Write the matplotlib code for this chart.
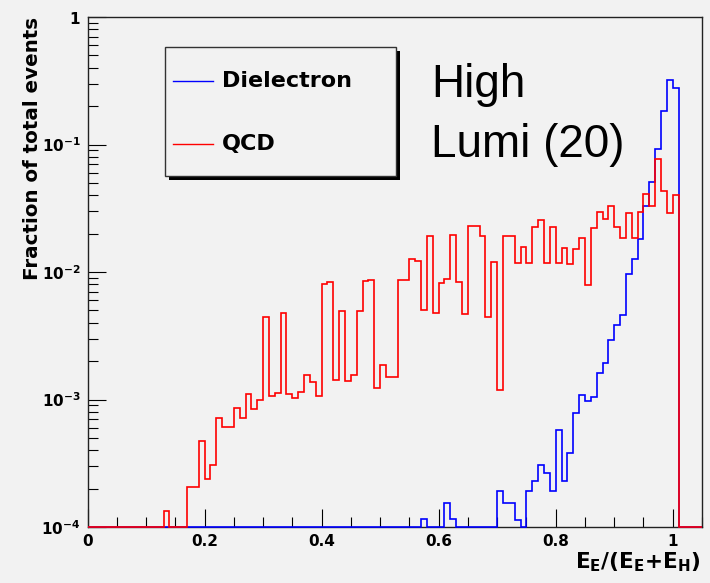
import numpy as np
import matplotlib
matplotlib.use('Agg')
from matplotlib import pyplot as plt
from matplotlib.ticker import MultipleLocator, FixedLocator, LogLocator, NullFormatter
from matplotlib.patches import Rectangle
from matplotlib.lines import Line2D

plt.rcParams['mathtext.fontset'] = 'dejavusans'

# histogram binning: 105 bins of 0.01 from 0 to 1.05
n_bins = 105
bin_width = 0.01

# QCD fractions, bins 13..100 (everything else empty)
qcd_first_bin = 13
qcd_frac = [1.34e-4, 0, 0, 0, 2.07e-4, 2.07e-4, 4.75e-4, 2.39e-4, 3.06e-4, 7.2e-4,
            6.1e-4, 6.1e-4, 8.5e-4, 7.2e-4, 1.1e-3, 8.4e-4, 9.9e-4, 4.4e-3, 1.06e-3, 1.13e-3,
            4.8e-3, 1.1e-3, 1.02e-3, 1.14e-3, 1.57e-3, 1.37e-3, 1.06e-3, 8.05e-3, 8.4e-3, 1.42e-3,
            4.97e-3, 1.39e-3, 1.55e-3, 4.9e-3, 8.55e-3, 8.65e-3, 1.22e-3, 1.85e-3, 1.5e-3, 1.5e-3,
            8.65e-3, 8.65e-3, 1.26e-2, 1.22e-2, 5.0e-3, 1.92e-2, 4.8e-3, 8.15e-3, 8.8e-3, 1.96e-2,
            8.35e-3, 4.7e-3, 2.3e-2, 2.3e-2, 1.92e-2, 4.46e-3, 1.19e-2, 1.19e-3, 1.9e-2, 1.93e-2,
            1.18e-2, 1.56e-2, 1.17e-2, 2.27e-2, 2.56e-2, 1.17e-2, 2.25e-2, 1.17e-2, 1.53e-2, 1.16e-2,
            1.51e-2, 1.86e-2, 7.9e-3, 2.23e-2, 2.97e-2, 2.62e-2, 3.3e-2, 2.25e-2, 1.86e-2, 2.92e-2,
            1.86e-2, 2.97e-2, 4.07e-2, 3.31e-2, 7.7e-2, 4.35e-2, 2.92e-2, 4.02e-2]

# Dielectron fractions, bins 57..100
ee_first_bin = 57
ee_frac = [1.15e-4, 0, 0, 0, 1.55e-4, 1.15e-4, 0, 0, 0, 0,
           0, 0, 0, 1.93e-4, 1.53e-4, 1.53e-4, 1.13e-4, 0, 1.93e-4, 2.31e-4,
           3.06e-4, 2.67e-4, 1.93e-4, 5.77e-4, 2.31e-4, 3.83e-4, 7.8e-4, 1.08e-3, 9.8e-4, 1.04e-3,
           1.62e-3, 1.95e-3, 2.93e-3, 3.84e-3, 4.6e-3, 9.6e-3, 1.27e-2, 1.82e-2, 3.3e-2, 5.1e-2,
           9.3e-2, 0.184, 0.32, 0.276]

x_ticks = [0, 0.2, 0.4, 0.6, 0.8, 1.0]
x_tick_labels = ['0', '0.2', '0.4', '0.6', '0.8', '1']
y_ticks = [1e-4, 1e-3, 1e-2, 1e-1, 1]
y_tick_labels = [r'$\mathbf{10^{-4}}$', r'$\mathbf{10^{-3}}$', r'$\mathbf{10^{-2}}$',
                 r'$\mathbf{10^{-1}}$', r'$\mathbf{1}$']


def full_hist(first, vals):
    h = np.zeros(n_bins)
    h[first:first + len(vals)] = vals
    return h


edges = np.arange(n_bins + 1) * bin_width
ymin = 1e-4
qcd = full_hist(qcd_first_bin, qcd_frac)
ee = full_hist(ee_first_bin, ee_frac)

bg = '#f2f2f2'
W, H = 710, 583
fig = plt.figure(figsize=(7.1, 5.83), dpi=100, facecolor=bg)
ax = fig.add_axes([87.5 / W, 1 - 527 / H, 614.5 / W, 510 / H], facecolor=bg)

# empty bins sit on the bottom of the frame like in ROOT
ax.stairs(np.maximum(ee, ymin), edges, baseline=None, color='#0000ff', lw=1.2, clip_on=False, zorder=3)
ax.stairs(np.maximum(qcd, ymin), edges, baseline=None, color='#ff0000', lw=1.2, clip_on=False, zorder=4)

ax.set_yscale('log')
ax.set_xlim(0, 1.05)
ax.set_ylim(ymin, 1)

ax.xaxis.set_major_locator(FixedLocator(x_ticks))
ax.set_xticklabels(x_tick_labels, fontsize=11, fontweight='bold')
ax.xaxis.set_minor_locator(MultipleLocator(0.05))
ax.yaxis.set_major_locator(FixedLocator(y_ticks))
ax.set_yticklabels(y_tick_labels, fontsize=11)
ax.yaxis.set_minor_locator(LogLocator(base=10, subs=np.arange(2, 10)))
ax.yaxis.set_minor_formatter(NullFormatter())

ax.tick_params(which='both', direction='in', top=False, right=False, color='black', width=0.8)
ax.tick_params(which='major', length=13, pad=5)
ax.tick_params(which='minor', length=7)
for s in ax.spines.values():
    s.set_linewidth(1.0)
    s.set_color('#222222')

fig.text(33 / W, 1 - 17 / H, 'Fraction of total events', rotation=90, ha='center', va='top',
         fontsize=14.3, fontweight='bold')
fig.text(700 / W, 1 - 568 / H, r'$\mathbf{E_{E}/(E_{E}{+}E_{H})}$', ha='right', va='baseline',
         fontsize=15.5)

# legend box with shadow
fig.patches.append(Rectangle((169 / W, 1 - 180 / H), 231 / W, 129 / H, transform=fig.transFigure,
                             facecolor='black', edgecolor='none', zorder=5))
fig.patches.append(Rectangle((165 / W, 1 - 176 / H), 231 / W, 129 / H, transform=fig.transFigure,
                             facecolor=bg, edgecolor='#333333', lw=1.0, zorder=6))
for label, col, yc in [('Dielectron', '#0000ff', 81), ('QCD', '#ff0000', 144)]:
    fig.lines.append(Line2D([173 / W, 213 / W], [1 - yc / H, 1 - yc / H], transform=fig.transFigure,
                            color=col, lw=1.0, zorder=7))
    fig.text(222 / W, 1 - yc / H, label, ha='left', va='center', fontsize=16, fontweight='bold', zorder=7)

fig.text(431 / W, 1 - 97 / H, 'High', ha='left', va='baseline', fontsize=33, family='Liberation Sans')
fig.text(431 / W, 1 - 157 / H, 'Lumi (20)', ha='left', va='baseline', fontsize=33, family='Liberation Sans')

fig.savefig('out.png', dpi=100, facecolor=bg)
